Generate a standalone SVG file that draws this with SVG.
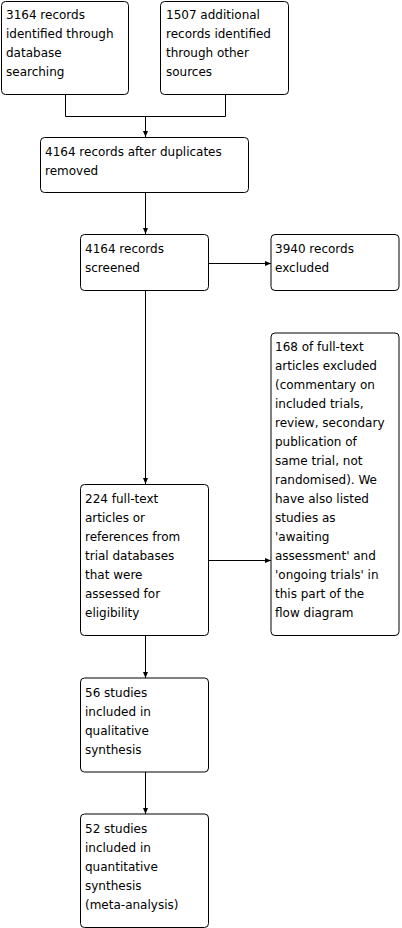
<svg xmlns="http://www.w3.org/2000/svg" width="402" height="928" viewBox="0 0 402 928">
<style>
.box{fill:#fff;stroke:#000;stroke-width:1}
.t{font-family:"DejaVu Sans",sans-serif;font-size:12px;fill:#000}
.c{fill:none;stroke:#000;stroke-width:1}
</style>
<defs>
<marker id="ah" markerWidth="6" markerHeight="5" refX="6" refY="2.5" orient="auto" markerUnits="userSpaceOnUse">
<path d="M0,0 L6,2.5 L0,5 z" fill="#000"/>
</marker>
</defs>
<rect width="402" height="928" fill="#fff"/>
<g id="connectors">
<path class="c" d="M65.5,95 V116.5 H225.5 V95"/>
<path class="c" d="M145.5,116.5 V137" marker-end="url(#ah)"/>
<path class="c" d="M145.5,193 V234" marker-end="url(#ah)"/>
<path class="c" d="M209,263.5 H271" marker-end="url(#ah)"/>
<path class="c" d="M145.5,291 V484" marker-end="url(#ah)"/>
<path class="c" d="M209,560.5 H271" marker-end="url(#ah)"/>
<path class="c" d="M145.5,636 V678" marker-end="url(#ah)"/>
<path class="c" d="M145.5,772 V814" marker-end="url(#ah)"/>
</g>
<g id="n1"><rect class="box" x="1.5" y="1.5" width="127" height="93" rx="4"/>
<text class="t"><tspan x="6" y="19">3164 records</tspan><tspan x="6" y="38">identified through</tspan><tspan x="6" y="57">database</tspan><tspan x="6" y="76">searching</tspan></text></g>
<g id="n2"><rect class="box" x="160.5" y="1.5" width="128" height="93" rx="4"/>
<text class="t"><tspan x="166" y="19">1507 additional</tspan><tspan x="166" y="38">records identified</tspan><tspan x="166" y="57">through other</tspan><tspan x="166" y="76">sources</tspan></text></g>
<g id="n3"><rect class="box" x="40.5" y="137.5" width="208" height="55" rx="4"/>
<text class="t"><tspan x="45" y="156">4164 records after duplicates</tspan><tspan x="45" y="175">removed</tspan></text></g>
<g id="n4"><rect class="box" x="80.5" y="234.5" width="128" height="56" rx="4"/>
<text class="t"><tspan x="85" y="253">4164 records</tspan><tspan x="85" y="272">screened</tspan></text></g>
<g id="n5"><rect class="box" x="271" y="234.5" width="128" height="56" rx="4"/>
<text class="t"><tspan x="275" y="253">3940 records</tspan><tspan x="275" y="272">excluded</tspan></text></g>
<g id="n6"><rect class="box" x="271" y="333" width="128" height="302.5" rx="4"/>
<text class="t"><tspan x="275" y="351">168 of full-text</tspan><tspan x="275" y="370">articles excluded</tspan><tspan x="275" y="389">(commentary on</tspan><tspan x="275" y="408">included trials,</tspan><tspan x="275" y="427">review, secondary</tspan><tspan x="275" y="446">publication of</tspan><tspan x="275" y="465">same trial, not</tspan><tspan x="275" y="484">randomised). We</tspan><tspan x="275" y="503">have also listed</tspan><tspan x="275" y="522">studies as</tspan><tspan x="275" y="541">'awaiting</tspan><tspan x="275" y="560">assessment' and</tspan><tspan x="275" y="579">'ongoing trials' in</tspan><tspan x="275" y="598">this part of the</tspan><tspan x="275" y="617">flow diagram</tspan></text></g>
<g id="n7"><rect class="box" x="80.5" y="484.5" width="128" height="151" rx="4"/>
<text class="t"><tspan x="85" y="503">224 full-text</tspan><tspan x="85" y="522">articles or</tspan><tspan x="85" y="541">references from</tspan><tspan x="85" y="560">trial databases</tspan><tspan x="85" y="579">that were</tspan><tspan x="85" y="598">assessed for</tspan><tspan x="85" y="617">eligibility</tspan></text></g>
<g id="n8"><rect class="box" x="80.5" y="678" width="128" height="94" rx="4"/>
<text class="t"><tspan x="85" y="697">56 studies</tspan><tspan x="85" y="716">included in</tspan><tspan x="85" y="735">qualitative</tspan><tspan x="85" y="754">synthesis</tspan></text></g>
<g id="n9"><rect class="box" x="80.5" y="814" width="128" height="113.5" rx="4"/>
<text class="t"><tspan x="85" y="833">52 studies</tspan><tspan x="85" y="852">included in</tspan><tspan x="85" y="871">quantitative</tspan><tspan x="85" y="890">synthesis</tspan><tspan x="85" y="909">(meta-analysis)</tspan></text></g>
</svg>
